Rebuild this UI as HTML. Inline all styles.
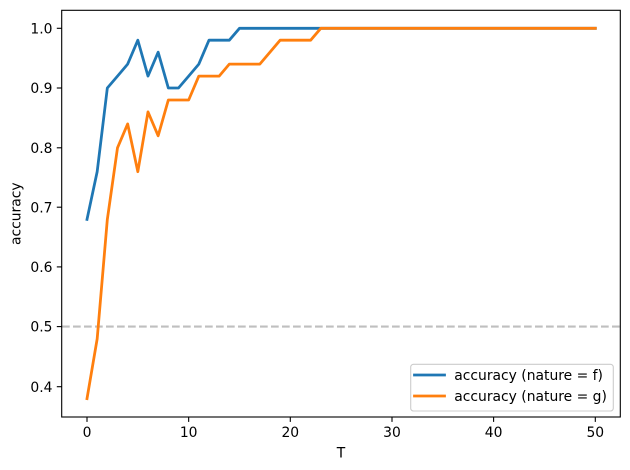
<!DOCTYPE html>
<html>
<head>
<meta charset="utf-8">
<style>
html,body{margin:0;padding:0;background:#fff;}
svg{display:block;}
text{font-family:"DejaVu Sans","Liberation Sans",sans-serif;font-size:13.89px;fill:#000;}
</style>
</head>
<body>
<svg width="630" height="470" viewBox="0 0 630 470" xmlns="http://www.w3.org/2000/svg">
<rect x="0" y="0" width="630" height="470" fill="#fff"/>
<!-- hline 0.5 -->
<line x1="62" y1="326.6" x2="620" y2="326.6" stroke="#bfbfbf" stroke-width="2.08" stroke-dasharray="7.7,3.3"/>
<!-- blue series -->
<polyline fill="none" stroke="#1f77b4" stroke-width="2.78" stroke-linejoin="round" stroke-linecap="square"
points="87,219.4 97.17,171.7 107.33,88.0 117.5,76.1 127.66,64.1 137.83,40.2 148.0,76.1 158.16,52.2 168.33,88.0 178.49,88.0 188.66,76.1 198.83,64.1 208.99,40.2 229.32,40.2 239.49,28.3 595.3,28.3"/>
<!-- orange series -->
<polyline fill="none" stroke="#ff7f0e" stroke-width="2.78" stroke-linejoin="round" stroke-linecap="square"
points="87,398.6 97.17,338.9 107.33,219.4 117.5,147.8 127.66,123.9 137.83,171.7 148.0,111.9 158.16,135.8 168.33,100.0 188.66,100.0 198.83,76.1 219.16,76.1 229.32,64.1 259.82,64.1 280.15,40.2 310.65,40.2 320.82,28.3 595.3,28.3"/>
<!-- axes frame -->
<rect x="61.7" y="10.3" width="558.6" height="406.7" fill="none" stroke="#000" stroke-width="1.1"/>
<!-- y ticks -->
<g stroke="#000" stroke-width="1.1">
<line x1="56.8" y1="386.7" x2="61.7" y2="386.7"/>
<line x1="56.8" y1="326.6" x2="61.7" y2="326.6"/>
<line x1="56.8" y1="266.9" x2="61.7" y2="266.9"/>
<line x1="56.8" y1="207.2" x2="61.7" y2="207.2"/>
<line x1="56.8" y1="147.8" x2="61.7" y2="147.8"/>
<line x1="56.8" y1="88.0" x2="61.7" y2="88.0"/>
<line x1="56.8" y1="28.3" x2="61.7" y2="28.3"/>
</g>
<g text-anchor="end">
<text x="52.5" y="391.8">0.4</text>
<text x="52.5" y="331.7">0.5</text>
<text x="52.5" y="272.0">0.6</text>
<text x="52.5" y="212.3">0.7</text>
<text x="52.5" y="152.9">0.8</text>
<text x="52.5" y="93.1">0.9</text>
<text x="52.5" y="33.4">1.0</text>
</g>
<!-- x ticks -->
<g stroke="#000" stroke-width="1.1">
<line x1="87" y1="417" x2="87" y2="421.9"/>
<line x1="188.66" y1="417" x2="188.66" y2="421.9"/>
<line x1="290.3" y1="417" x2="290.3" y2="421.9"/>
<line x1="392" y1="417" x2="392" y2="421.9"/>
<line x1="493.6" y1="417" x2="493.6" y2="421.9"/>
<line x1="595.3" y1="417" x2="595.3" y2="421.9"/>
</g>
<g text-anchor="middle">
<text x="87" y="437.2">0</text>
<text x="188.66" y="437.2">10</text>
<text x="290.3" y="437.2">20</text>
<text x="392" y="437.2">30</text>
<text x="493.6" y="437.2">40</text>
<text x="595.3" y="437.2">50</text>
</g>
<!-- axis labels -->
<text x="341" y="457.3" text-anchor="middle">T</text>
<text transform="translate(20.5,213.7) rotate(-90)" text-anchor="middle">accuracy</text>
<!-- legend -->
<rect x="410.7" y="364.3" width="202.6" height="46.7" rx="2.8" ry="2.8" fill="#fff" fill-opacity="0.8" stroke="#cccccc" stroke-width="1.1"/>
<line x1="414.5" y1="375" x2="444.5" y2="375" stroke="#1f77b4" stroke-width="2.78" stroke-linecap="square"/>
<line x1="414.5" y1="396" x2="444.5" y2="396" stroke="#ff7f0e" stroke-width="2.78" stroke-linecap="square"/>
<text x="454.3" y="380">accuracy (nature = f)</text>
<text x="454.3" y="401">accuracy (nature = g)</text>
</svg>
</body>
</html>
